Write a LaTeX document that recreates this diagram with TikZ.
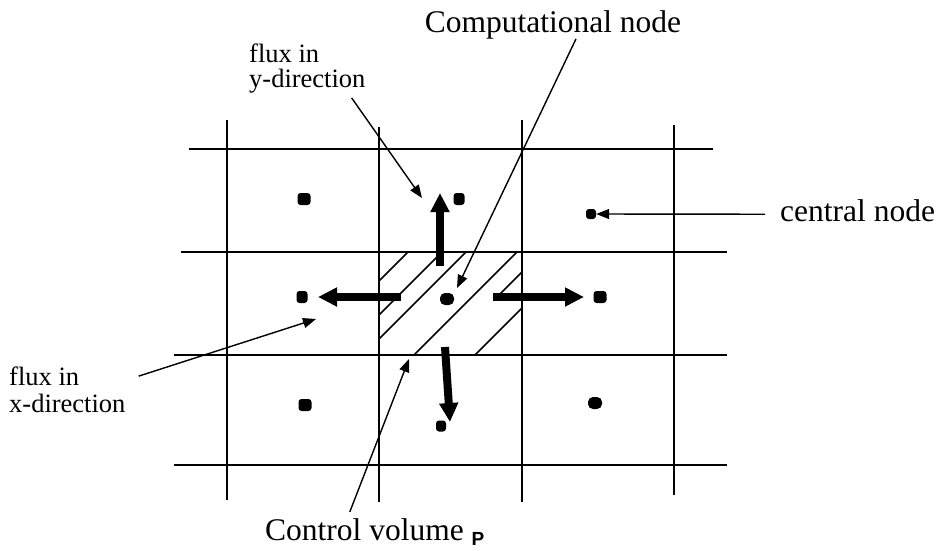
\documentclass[tikz,border=0pt]{standalone}
\usepackage{fontspec}
\setmainfont{Liberation Serif}
\setsansfont{Liberation Sans}
\usetikzlibrary{arrows.meta}

\begin{document}
\begin{tikzpicture}[x=1pt,y=-1pt,>={Triangle[length=13pt,width=10pt]},
  gridline/.style={line width=1.5pt},
  gridpt/.style={fill=black,rounded corners=3pt,inner sep=0pt,minimum width=13pt,minimum height=12pt},
  flux/.style={line width=8pt,-{Triangle[length=19pt,width=18pt]}},
  lbl/.style={font=\fontsize{31.5}{34}\selectfont,inner sep=0pt},
  sml/.style={font=\fontsize{26.5}{25}\selectfont,inner sep=0pt,align=left}]
\useasboundingbox (0,0) rectangle (938,550);
% grid of control volumes
\draw[gridline] (189,149) -- (713,149);
\draw[gridline] (181,252) -- (727,252);
\draw[gridline] (174,355) -- (727,355);
\draw[gridline] (174,465) -- (727,465);
\draw[gridline] (227,120) -- (227,500);
\draw[gridline] (379,127) -- (379,502);
\draw[gridline] (522,120) -- (522,502);
\draw[gridline] (674,125) -- (674,495);
% hatching of the control volume P
\draw[gridline] (379,281) -- (408,252);
\draw[gridline] (379,315) -- (442,252);
\draw[gridline] (379,339) -- (466,252);
\draw[gridline] (414,355) -- (517,252);
\draw[gridline] (522,272) -- (497,297);
\draw[gridline] (522,308) -- (475,355);
% nodes
\node[gridpt] (p11) at (304,199) {};
\node[gridpt,minimum width=11pt] (p12) at (459,199) {};
\node[gridpt,minimum width=10pt,minimum height=10pt] (p13) at (591,214) {};
\node[gridpt,minimum width=11pt] (p21) at (302,297) {};
\node[gridpt,minimum width=14pt,rounded corners=5pt] (p22) at (447,299) {};
\node[gridpt] (p23) at (600,297) {};
\node[gridpt] (p31) at (305,405) {};
\node[gridpt,minimum width=10pt,minimum height=11pt] (p32) at (441,426) {};
\node[gridpt,minimum width=14pt,rounded corners=5pt] (p33) at (595,403) {};
% fluxes
\draw[flux] (440,266) -- (440,193);
\draw[flux] (401,297) -- (318,297);
\draw[flux] (493,297) -- (584,297);
\draw[flux] (445,347) -- (450,422);
% labels
\node[lbl,anchor=base] (comp) at (553,32) {Computational node};
\node[sml,anchor=base west] (ylab) at (249,87) {flux in\\ y-direction};
\node[lbl,anchor=base west] (clab) at (780,221) {central node};
\node[sml,anchor=base west,font=\fontsize{26.5}{27}\selectfont] (xlab) at (9,412) {flux in\\x-direction};
\node[lbl,anchor=base west] (cvlab) at (265,540) {Control volume \raisebox{-5pt}{\fontsize{19}{20}\selectfont\sffamily\bfseries P}};
\coordinate (yend) at (422,198);
\coordinate (compend) at (457,288);
\coordinate (xend) at (316,319);
\coordinate (cvend) at (409,359);
\draw[->,line width=1.4pt] ([shift={(-14,5)}]ylab.south east) -- (yend);
\draw[->,line width=1.4pt] ([xshift=23pt]comp.south) -- (compend);
\draw[->,line width=1.4pt] ([shift={(-15,4)}]clab.west) -- (p13);
\draw[->,line width=1.4pt] ([shift={(13,10)}]xlab.north east) -- (xend);
\draw[->,line width=1.4pt] ([shift={(-25,-6)}]cvlab.north) -- (cvend);
\end{tikzpicture}
\end{document}
